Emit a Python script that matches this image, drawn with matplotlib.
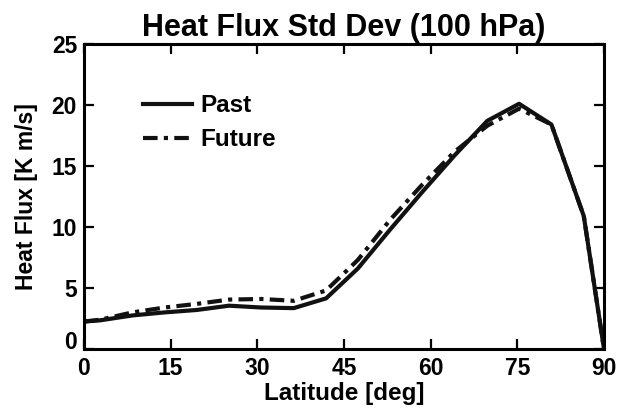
import matplotlib
matplotlib.use("Agg")
import matplotlib.pyplot as plt

# latitude grid (deg) and heat flux std dev (K m/s)
lat = [0, 2.79, 8.37, 13.95, 19.53, 25.1, 30.7, 36.3, 41.9, 47.4,
       53.0, 58.6, 64.2, 69.8, 75.3, 80.9, 86.5, 90]
past = [2.25, 2.35, 2.75, 3.0, 3.2, 3.55, 3.4, 3.35, 4.15, 6.6,
        9.8, 12.9, 15.9, 18.7, 20.1, 18.4, 10.9, 0.0]
future = [2.25, 2.4, 3.0, 3.4, 3.7, 4.05, 4.1, 3.95, 4.8, 7.3,
          10.6, 13.5, 16.2, 18.3, 19.7, 18.4, 10.9, 0.0]

xticks = [0, 15, 30, 45, 60, 75, 90]
yticks = [0, 5, 10, 15, 20, 25]

plt.rcParams["font.family"] = ["Liberation Sans", "DejaVu Sans"]
plt.rcParams["font.weight"] = "bold"

fig = plt.figure(figsize=(6.27, 4.13), dpi=100)
ax = fig.add_axes([84 / 627, 1 - 349 / 413, 520 / 627, 305 / 413])

ax.plot(lat, past, c="#111111", lw=3, label="Past")
ax.plot(lat, future, c="#111111", lw=3, ls=(0, (3.5, 1.5, 1.0, 1.5)), label="Future")

ax.set_xlim(0, 90)
ax.set_ylim(0, 25)
ax.set_xticks(xticks)
ax.set_yticks(yticks)
ax.tick_params(direction="in", length=7, width=1.6, top=True, right=True,
               labelsize=16.5)
ax.tick_params(axis="x", pad=6)
ax.tick_params(axis="y", pad=5)
for lab in ax.get_yticklabels():
    if lab.get_text() == "0":
        lab.set_va("baseline")
for s in ax.spines.values():
    s.set_linewidth(2.2)

ax.set_title("Heat Flux Std Dev (100 hPa)", fontsize=22, fontweight="bold", pad=6)
ax.set_xlabel("Latitude [deg]", fontsize=17.5, fontweight="bold", labelpad=1)
ax.set_ylabel("Heat Flux [K m/s]", fontsize=16.5, fontweight="bold", labelpad=10)

ax.legend(loc="upper left", bbox_to_anchor=(0.09, 0.875), frameon=False,
          fontsize=17.5, handlelength=2.0, handletextpad=0.35, labelspacing=0.45,
          borderpad=0)

fig.savefig("out.png", dpi=100)
